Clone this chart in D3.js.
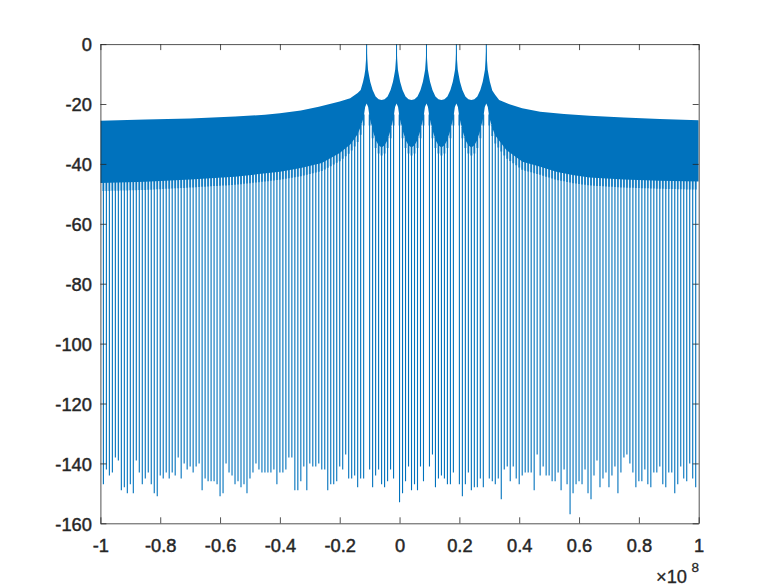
<!DOCTYPE html>
<html><head><meta charset="utf-8">
<script src="https://cdn.jsdelivr.net/npm/d3@7"></script>
<style>
html,body{margin:0;padding:0;background:#fff;}
svg{display:block;}
text{font-family:"Liberation Sans", Arial, Helvetica, sans-serif;fill:#262626;}
</style>
</head><body>
<svg id="chart" width="772" height="588"></svg>
<script>
// ---------- data (frequency in units of 1e8, magnitude in dB) ----------
const xTicks = [-1, -0.8, -0.6, -0.4, -0.2, 0, 0.2, 0.4, 0.6, 0.8, 1];
const yTicks = [0, -20, -40, -60, -80, -100, -120, -140, -160];
const xExponent = "8";

const toneFreq = [-0.11, -0.01, 0.09, 0.19, 0.29];
const toneDb   = [0, 0, 0, 0, 0];

// upper envelope of the dense leakage band
const upperX = [-1, -0.85, -0.7, -0.55, -0.45, -0.4, -0.33, -0.27, -0.2, -0.165, -0.14, -0.13, -0.122, -0.1175, -0.1145, -0.112, -0.11,
  -0.108, -0.1055, -0.102, -0.098, -0.09, -0.08, -0.07, -0.06, -0.05, -0.04, -0.03, -0.022, -0.018, -0.0145, -0.012, -0.01,
  -0.008, -0.0055, -0.002, 0.002, 0.01, 0.02, 0.03, 0.04, 0.05, 0.06, 0.07, 0.078, 0.082, 0.0855, 0.088, 0.09,
  0.092, 0.0945, 0.098, 0.102, 0.11, 0.12, 0.13, 0.14, 0.15, 0.16, 0.17, 0.178, 0.182, 0.1855, 0.188, 0.19,
  0.192, 0.1945, 0.198, 0.202, 0.21, 0.22, 0.23, 0.24, 0.25, 0.26, 0.27, 0.278, 0.282, 0.2855, 0.288, 0.29,
  0.292, 0.2945, 0.298, 0.302, 0.31, 0.32, 0.333, 0.37, 0.41, 0.47, 0.55, 0.635, 0.75, 0.87, 1];
const upperDb = [-25.6, -25.2, -24.8, -24.2, -23.6, -23.1, -22.2, -20.9, -19.2, -18.1, -16.3, -15.3, -12.6, -10.5, -8.5, -5, 0,
  -5, -8.5, -10.5, -12.6, -15.3, -17.5, -18.4, -18.7, -18.4, -17.5, -15.3, -12.6, -10.5, -8.5, -5, 0,
  -5, -8.5, -10.5, -12.6, -15.3, -17.5, -18.4, -18.7, -18.4, -17.5, -15.3, -12.6, -10.5, -8.5, -5, 0,
  -5, -8.5, -10.5, -12.6, -15.3, -17.5, -18.4, -18.7, -18.4, -17.5, -15.3, -12.6, -10.5, -8.5, -5, 0,
  -5, -8.5, -10.5, -12.6, -15.3, -17.5, -18.4, -18.7, -18.4, -17.5, -15.3, -12.6, -10.5, -8.5, -5, 0,
  -5, -8.5, -10.5, -12.6, -15.5, -17, -18.7, -20.2, -21.4, -22.6, -23.3, -23.9, -24.5, -25, -25.4];

// lower envelope of the dense band
const lowerX = [-1, -0.85, -0.7, -0.55, -0.4, -0.33, -0.26, -0.2, -0.165, -0.15, -0.14, -0.13, -0.12, -0.115, -0.11,
  -0.105, -0.1, -0.09, -0.08, -0.07, -0.06, -0.05, -0.04, -0.03, -0.02, -0.015, -0.01,
  -0.005, 0, 0.01, 0.02, 0.03, 0.04, 0.05, 0.06, 0.07, 0.08, 0.085, 0.09,
  0.095, 0.1, 0.11, 0.12, 0.13, 0.14, 0.15, 0.16, 0.17, 0.18, 0.185, 0.19,
  0.195, 0.2, 0.21, 0.22, 0.23, 0.24, 0.25, 0.26, 0.27, 0.28, 0.285, 0.29,
  0.295, 0.3, 0.31, 0.32, 0.357, 0.411, 0.468, 0.524, 0.578, 0.635, 0.75, 0.87, 1];
const lowerDb = [-46.4, -46, -45.2, -44.3, -42.6, -41.4, -39.7, -36.4, -33.5, -31.5, -30, -27.6, -24.5, -21, -19.8,
  -21, -24.5, -28.7, -32, -33.8, -34.5, -33.8, -32, -28.7, -24.5, -21, -19.8,
  -21, -24.5, -28.7, -32, -33.8, -34.5, -33.8, -32, -28.7, -24.5, -21, -19.8,
  -21, -24.5, -28.7, -32, -33.8, -34.5, -33.8, -32, -28.7, -24.5, -21, -19.8,
  -21, -24.5, -28.7, -32, -33.8, -34.5, -33.8, -32, -28.7, -24.5, -21, -19.8,
  -21, -24.5, -28, -30.5, -35.4, -39.3, -40.9, -42.6, -43.7, -44.5, -45.2, -45.6, -45.9];

// deep nulls: bins from -0.99 in steps of 0.01 (no null at the tone bins)
const nullStart = -0.99, nullStep = 0.01;
const nullDb = [
  -147,-142,-144,-143,-138,-139,-149,-148,-150,-147,
  -150,-139,-143,-147,-145,-143,-147,-150,-151,-144,
  -145,-143,-145,-143,-144,-138,-145,-140,-142,-141,
  -143,-141,-140,-149,-145,-146,-146,-146,-147,-151,
  -150,-140,-143,-144,-147,-146,-148,-147,-150,-145,
  -143,-140,-142,-143,-143,-143,-143,-142,-147,-143,
  -143,-142,-138,-138,-149,-149,-146,-141,-149,-140,
  -141,-141,-140,-142,-142,-149,-147,-147,-146,
  -141,-142,-137,-145,-145,-144,-148,-145,-145,null,
  -142,-148,-144,-142,-147,-148,-146,-142,-145,null,
  -153,-150,-146,-141,-149,-147,-149,-141,-146,null,
  -141,-137,-148,-145,-144,-145,-147,-147,-143,null,
  -147,-151,-147,-143,-149,-148,-148,-145,-148,null,
  -145,-146,-147,-145,-152,-142,-141,-146,-141,-145,
  -147,-144,-143,-143,-143,-149,-137,-144,-141,-144,
  -144,-146,-146,-143,
  -149,-142,-147,-157,-150,-147,-146,-147,-142,-150,
  -152,-144,-139,-148,-145,-143,-148,-144,-141,-150,
  -143,-138,-137,-140,-143,-148,-146,-146,-142,-147,
  -148,-143,-143,-141,-147,-148,-143,-143,-150,-147,
  -141,-145,-146,-140,-145,-148];

// ---------- drawing ----------
const W = 772, H = 588;
const L = 100.4, R = 698.7, T = 44.1, B = 523.3;
const blue = "#0072BD", axisCol = "#262626";

const svg = d3.select("#chart");
svg.append("rect").attr("width", W).attr("height", H).attr("fill", "#fff");

const x = d3.scaleLinear().domain([-1, 1]).range([L, R]);
const y = d3.scaleLinear().domain([-160, 0]).range([B, T]);
const lowerAt = d3.scaleLinear().domain(lowerX).range(lowerDb);

svg.append("defs").append("clipPath").attr("id", "clip")
  .append("rect").attr("x", L).attr("y", T).attr("width", R - L).attr("height", B - T);

const plot = svg.append("g").attr("clip-path", "url(#clip)");

const nulls = nullDb.map((v, i) => ({f: nullStart + i * nullStep, db: v})).filter(d => d.db !== null);

// thin null lines
plot.append("g").selectAll("line.n").data(nulls).join("line")
  .attr("x1", d => x(d.f)).attr("x2", d => x(d.f))
  .attr("y1", d => y(lowerAt(d.f) + 1)).attr("y2", d => y(d.db))
  .attr("stroke", blue).attr("stroke-width", 1.1);
// slightly wider part just below the band
plot.append("g").selectAll("line.w").data(nulls).join("line")
  .attr("x1", d => x(d.f)).attr("x2", d => x(d.f))
  .attr("y1", d => y(lowerAt(d.f) + 1)).attr("y2", d => y(lowerAt(d.f) - 2.7))
  .attr("stroke", blue).attr("stroke-width", 2).attr("stroke-opacity", 0.7);

// dense band
const bandPts = upperX.map((f, i) => [f, upperDb[i]])
  .concat(lowerX.map((f, i) => [f, lowerDb[i]]).reverse());
const line = d3.line().x(d => x(d[0])).y(d => y(d[1]));
plot.append("path").attr("d", line(bandPts) + "Z").attr("fill", blue).attr("stroke", "none");

// tone spikes
plot.append("g").selectAll("line").data(toneFreq).join("line")
  .attr("x1", d => x(d)).attr("x2", d => x(d))
  .attr("y1", y(-12)).attr("y2", (d, i) => y(toneDb[i]))
  .attr("stroke", blue).attr("stroke-width", 1);

// ---------- axes ----------
const fs = 18.3;
const fmt = d => String(d);
const axB = svg.append("g").attr("transform", `translate(0,${B})`)
  .call(d3.axisBottom(x).tickValues(xTicks).tickSizeInner(-6).tickSizeOuter(0).tickPadding(15.5).tickFormat(fmt));
const axT = svg.append("g").attr("transform", `translate(0,${T})`)
  .call(d3.axisTop(x).tickValues(xTicks).tickSizeInner(-6).tickSizeOuter(0).tickFormat(""));
const axL = svg.append("g").attr("transform", `translate(${L},0)`)
  .call(d3.axisLeft(y).tickValues(yTicks).tickSizeInner(-6).tickSizeOuter(0).tickPadding(8.5).tickFormat(fmt));
const axR = svg.append("g").attr("transform", `translate(${R},0)`)
  .call(d3.axisRight(y).tickValues(yTicks).tickSizeInner(-6).tickSizeOuter(0).tickFormat(""));

[axB, axT, axL, axR].forEach(g => {
  g.selectAll("path.domain").attr("stroke", axisCol).attr("stroke-width", 0.8);
  g.selectAll(".tick line").attr("stroke", axisCol).attr("stroke-width", 0.8);
  g.selectAll("text").attr("font-size", fs).attr("fill", axisCol)
    .attr("stroke", axisCol).attr("stroke-width", 0.45)
    .attr("font-family", '"Liberation Sans", Arial, Helvetica, sans-serif');
});
axL.selectAll("text").attr("dy", "0.37em");

// exponent label
svg.append("text").attr("x", 656).attr("y", 583).attr("font-size", fs).attr("fill", axisCol)
  .attr("stroke", axisCol).attr("stroke-width", 0.3).text("\u00D710");
svg.append("text").attr("x", 691.5).attr("y", 572).attr("font-size", 13.5).attr("fill", axisCol)
  .attr("stroke", axisCol).attr("stroke-width", 0.3).text(xExponent);
</script>
</body></html>
